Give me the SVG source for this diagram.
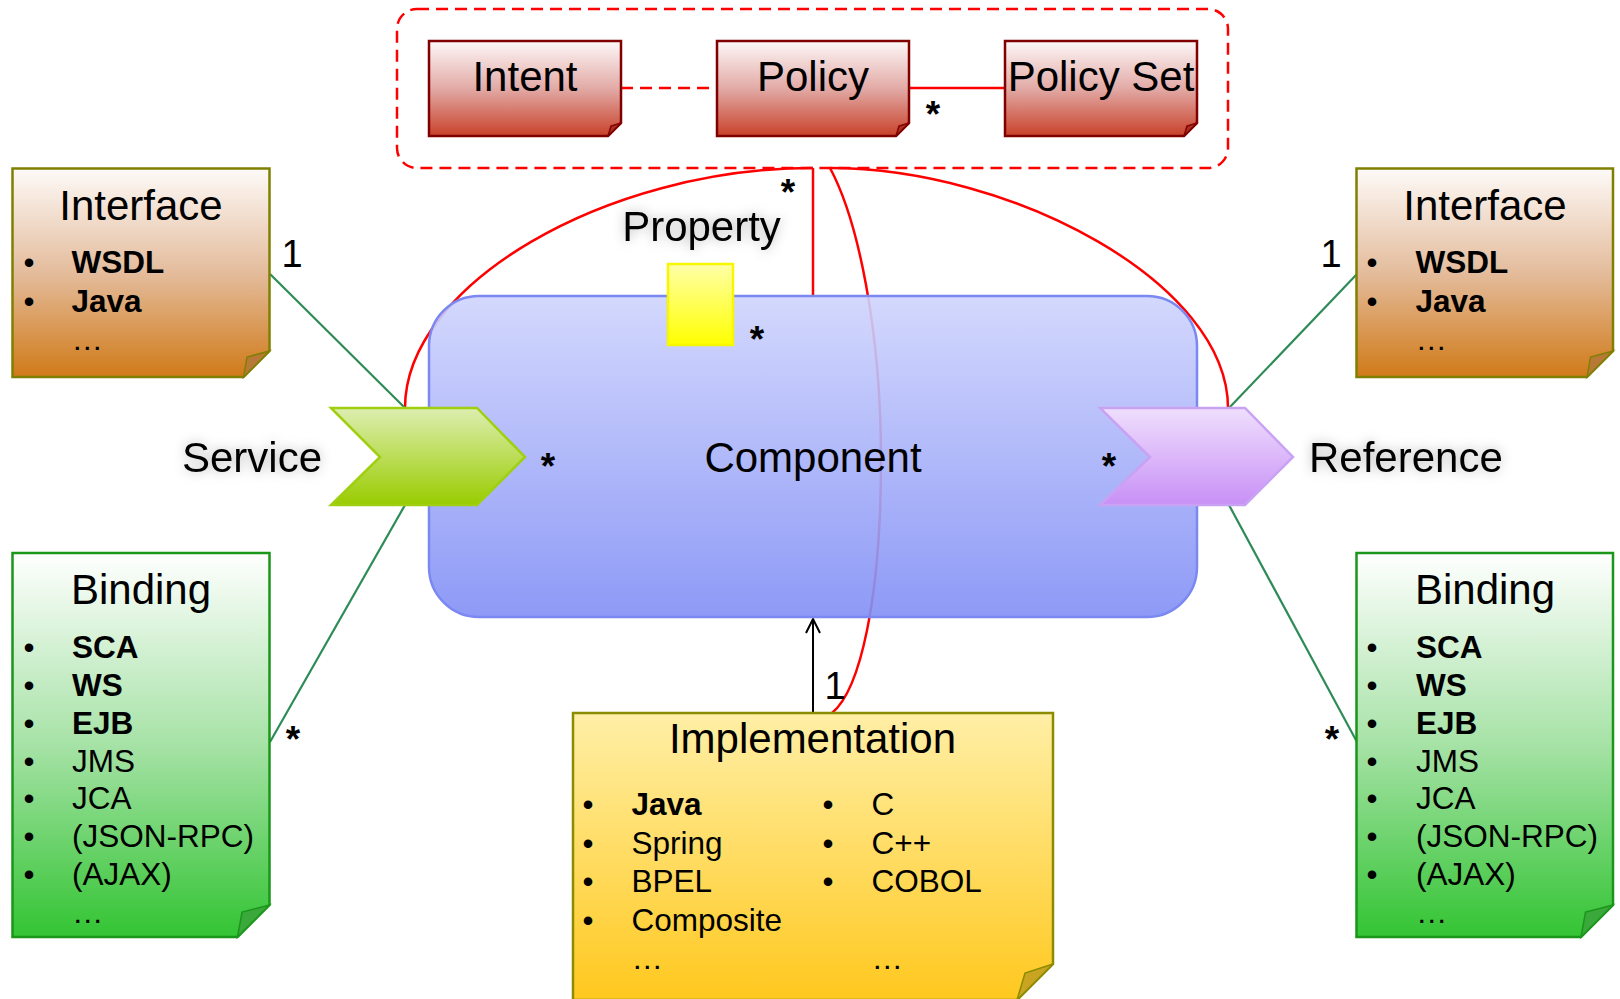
<svg xmlns="http://www.w3.org/2000/svg" width="1620" height="999" viewBox="0 0 1620 999">
<defs>
<style>
text{font-family:"Liberation Sans",Arial,sans-serif;fill:#000}
.t{font-size:42px}
.it{font-size:31.5px}
.b{font-weight:bold}
.c{text-anchor:middle}
.star{font-size:37px;font-weight:bold;text-anchor:middle}
.one{font-size:38px;text-anchor:middle}
.red{fill:none;stroke:#ff0000;stroke-width:2.5}
.grn{fill:none;stroke:#2e8b57;stroke-width:2.2}
.topbox{fill:url(#gTop);stroke:#800000;stroke-width:2.5}
.topfold{fill:#a8301c;stroke:#800000;stroke-width:1.5}
.iface{fill:url(#gIf);stroke:#808000;stroke-width:2.5}
.iffold{fill:#b87838;stroke:#808000;stroke-width:1.5}
.bind{fill:url(#gBi);stroke:#1a961a;stroke-width:2.5}
.bifold{fill:#3aa83a;stroke:#1a961a;stroke-width:1.5}
</style>
<linearGradient id="gTop" x1="0" y1="0" x2="0" y2="1"><stop offset="0" stop-color="#fdf8f8"/><stop offset="0.5" stop-color="#e2aaa6"/><stop offset="1" stop-color="#c8412a"/></linearGradient>
<linearGradient id="gIf" x1="0" y1="0" x2="0" y2="1"><stop offset="0" stop-color="#fdfaf8"/><stop offset="0.5" stop-color="#e4bc9c"/><stop offset="1" stop-color="#d07a18"/></linearGradient>
<linearGradient id="gBi" x1="0" y1="0" x2="0" y2="1"><stop offset="0" stop-color="#ffffff"/><stop offset="0.5" stop-color="#a6e2a6"/><stop offset="1" stop-color="#33c433"/></linearGradient>
<linearGradient id="gIm" x1="0" y1="0" x2="0" y2="1"><stop offset="0" stop-color="#ffefa6"/><stop offset="1" stop-color="#ffc81e"/></linearGradient>
<linearGradient id="gCo" x1="0" y1="0" x2="0" y2="1"><stop offset="0" stop-color="#cfd4fd"/><stop offset="1" stop-color="#818ff5"/></linearGradient>
<linearGradient id="gSv" x1="0" y1="0" x2="0" y2="1"><stop offset="0" stop-color="#ddeeb0"/><stop offset="1" stop-color="#99cc00"/></linearGradient>
<linearGradient id="gRf" x1="0" y1="0" x2="0" y2="1"><stop offset="0" stop-color="#efdffd"/><stop offset="1" stop-color="#c890f6"/></linearGradient>
<linearGradient id="gPr" x1="0" y1="0" x2="0" y2="1"><stop offset="0" stop-color="#ffffa8"/><stop offset="1" stop-color="#ffff00"/></linearGradient>
<filter id="soft" x="-15%" y="-50%" width="130%" height="200%">
<feGaussianBlur in="SourceAlpha" stdDeviation="6" result="b"/>
<feFlood flood-color="#000" flood-opacity="0.3"/>
<feComposite in2="b" operator="in"/>
<feMerge><feMergeNode/><feMergeNode in="SourceGraphic"/></feMerge>
</filter>
<marker id="open" viewBox="0 0 16 16" refX="15" refY="8" markerWidth="16" markerHeight="16" markerUnits="userSpaceOnUse" orient="auto"><path d="M1 1 L15 8 L1 15" fill="none" stroke="#000" stroke-width="2"/></marker>
</defs>
<rect width="1620" height="999" fill="#fff"/>

<g id="policy-group">
<rect x="397" y="9" width="831" height="159" rx="20" fill="none" stroke="#ff0000" stroke-width="2.5" stroke-dasharray="12 7"/>
</g>

<g id="connectors">
<line class="red" x1="621" y1="88" x2="717" y2="88" stroke-dasharray="12 7"/>
<line class="red" x1="909" y1="88" x2="1005" y2="88"/>
<line class="red" x1="813" y1="168" x2="813" y2="296"/>
<path class="red" d="M405 408 C405 285 605 168 813 168"/>
<path class="red" d="M830 168 C1012 168 1228 283 1228 408"/>
<path class="red" d="M830 168 C858 220 881 330 881 460 C881 600 860 690 832 713"/>
<line class="grn" x1="270" y1="274" x2="405" y2="408"/>
<line class="grn" x1="270" y1="742" x2="405" y2="505"/>
<line class="grn" x1="1357" y1="274" x2="1229" y2="408"/>
<line class="grn" x1="1357" y1="742" x2="1229" y2="505"/>
<line x1="813" y1="713" x2="813" y2="619" stroke="#000" stroke-width="2" marker-end="url(#open)"/>
</g>

<g id="component">
<rect x="429" y="296" width="768" height="321" rx="50" fill="url(#gCo)" fill-opacity="0.9" stroke="#7b88f2" stroke-width="2.5"/>
<text class="t c" x="813" y="472">Component</text>
</g>

<g id="property">
<rect x="668" y="264" width="65" height="81" fill="url(#gPr)" stroke="#f7f700" stroke-width="2.5"/>
<text class="t c" x="701.5" y="241" filter="url(#soft)">Property</text>
</g>

<g id="intent">
<path class="topbox" d="M429 41 H621 V123 L608 136 H429 Z"/>
<path class="topfold" d="M621 123 L611 126 L608 136 Z"/>
<text class="t c" x="525" y="91">Intent</text>
</g>
<g id="policy">
<path class="topbox" d="M717 41 H909 V123 L896 136 H717 Z"/>
<path class="topfold" d="M909 123 L899 126 L896 136 Z"/>
<text class="t c" x="813" y="91">Policy</text>
</g>
<g id="policy-set">
<path class="topbox" d="M1005 41 H1197 V123 L1184 136 H1005 Z"/>
<path class="topfold" d="M1197 123 L1187 126 L1184 136 Z"/>
<text class="t c" x="1101" y="91">Policy Set</text>
</g>

<g id="service">
<polygon points="331,408 477,408 525,457 477,505 331,505 380,457" fill="url(#gSv)" stroke="#9fcf10" stroke-width="2.5"/>
<text class="t" x="322" y="472" text-anchor="end" filter="url(#soft)">Service</text>
</g>

<g id="reference">
<polygon points="1100,408 1245,408 1293,457 1245,505 1100,505 1150,457" fill="url(#gRf)" stroke="#c9a2f4" stroke-width="2.5"/>
<text class="t" x="1309" y="472" filter="url(#soft)">Reference</text>
</g>

<g id="interface-left">
<path class="iface" d="M12.5 168.5 H269.5 V351 L243.5 377 H12.5 Z"/>
<path class="iffold" d="M269.5 351 L247 357 L243.5 377 Z"/>
<text class="t c" x="141" y="220">Interface</text>
<text class="it c" x="29" y="273">•</text><text class="it b" x="71.5" y="273">WSDL</text>
<text class="it c" x="29" y="311.5">•</text><text class="it b" x="71.5" y="311.5">Java</text>
<text class="it" x="71.5" y="350">…</text>
</g>

<g id="interface-right">
<path class="iface" d="M1356.5 168.5 H1613 V351 L1587 377 H1356.5 Z"/>
<path class="iffold" d="M1613 351 L1590.5 357 L1587 377 Z"/>
<text class="t c" x="1485" y="220">Interface</text>
<text class="it c" x="1372" y="273">•</text><text class="it b" x="1415.5" y="273">WSDL</text>
<text class="it c" x="1372" y="311.5">•</text><text class="it b" x="1415.5" y="311.5">Java</text>
<text class="it" x="1415.5" y="350">…</text>
</g>

<g id="binding-left">
<path class="bind" d="M12.5 553 H269.5 V905 L237.5 937 H12.5 Z"/>
<path class="bifold" d="M269.5 905 L242 912 L237.5 937 Z"/>
<text class="t c" x="141" y="604">Binding</text>
<text class="it c" x="29" y="658">•</text><text class="it b" x="72" y="658">SCA</text>
<text class="it c" x="29" y="696">•</text><text class="it b" x="72" y="696">WS</text>
<text class="it c" x="29" y="733.5">•</text><text class="it b" x="72" y="733.5">EJB</text>
<text class="it c" x="29" y="771.5">•</text><text class="it" x="72" y="771.5">JMS</text>
<text class="it c" x="29" y="809">•</text><text class="it" x="72" y="809">JCA</text>
<text class="it c" x="29" y="847">•</text><text class="it" x="72" y="847">(JSON-RPC)</text>
<text class="it c" x="29" y="885">•</text><text class="it" x="72" y="885">(AJAX)</text>
<text class="it" x="72" y="922.5">…</text>
</g>

<g id="binding-right">
<path class="bind" d="M1356.5 553 H1613 V905 L1581 937 H1356.5 Z"/>
<path class="bifold" d="M1613 905 L1585.5 912 L1581 937 Z"/>
<text class="t c" x="1485" y="604">Binding</text>
<text class="it c" x="1372" y="658">•</text><text class="it b" x="1416" y="658">SCA</text>
<text class="it c" x="1372" y="696">•</text><text class="it b" x="1416" y="696">WS</text>
<text class="it c" x="1372" y="733.5">•</text><text class="it b" x="1416" y="733.5">EJB</text>
<text class="it c" x="1372" y="771.5">•</text><text class="it" x="1416" y="771.5">JMS</text>
<text class="it c" x="1372" y="809">•</text><text class="it" x="1416" y="809">JCA</text>
<text class="it c" x="1372" y="847">•</text><text class="it" x="1416" y="847">(JSON-RPC)</text>
<text class="it c" x="1372" y="885">•</text><text class="it" x="1416" y="885">(AJAX)</text>
<text class="it" x="1416" y="922.5">…</text>
</g>

<g id="implementation">
<path d="M573 713 H1053 V964 L1017 1000 H573 Z" fill="url(#gIm)" stroke="#8c8c00" stroke-width="2.5"/>
<path d="M1053 964 L1025 973 L1017 1000 Z" fill="#c8a420" stroke="#8c8c00" stroke-width="1.5"/>
<text class="t c" x="812.5" y="753">Implementation</text>
<text class="it c" x="588" y="815">•</text><text class="it b" x="631.5" y="815">Java</text>
<text class="it c" x="588" y="853.5">•</text><text class="it" x="631.5" y="853.5">Spring</text>
<text class="it c" x="588" y="892">•</text><text class="it" x="631.5" y="892">BPEL</text>
<text class="it c" x="588" y="930.5">•</text><text class="it" x="631.5" y="930.5">Composite</text>
<text class="it" x="631.5" y="969">…</text>
<text class="it c" x="828" y="815">•</text><text class="it" x="871.5" y="815">C</text>
<text class="it c" x="828" y="853.5">•</text><text class="it" x="871.5" y="853.5">C++</text>
<text class="it c" x="828" y="892">•</text><text class="it" x="871.5" y="892">COBOL</text>
<text class="it" x="871.5" y="969">…</text>
</g>

<g id="multiplicities">
<text class="star" x="933" y="127">*</text>
<text class="star" x="788" y="205">*</text>
<text class="star" x="757" y="352">*</text>
<text class="star" x="548" y="479">*</text>
<text class="star" x="1109" y="479">*</text>
<text class="star" x="293" y="752">*</text>
<text class="star" x="1332" y="752">*</text>
<text class="one" x="292" y="267">1</text>
<text class="one" x="1331" y="267">1</text>
<text class="one" x="835" y="699">1</text>
</g>
</svg>
